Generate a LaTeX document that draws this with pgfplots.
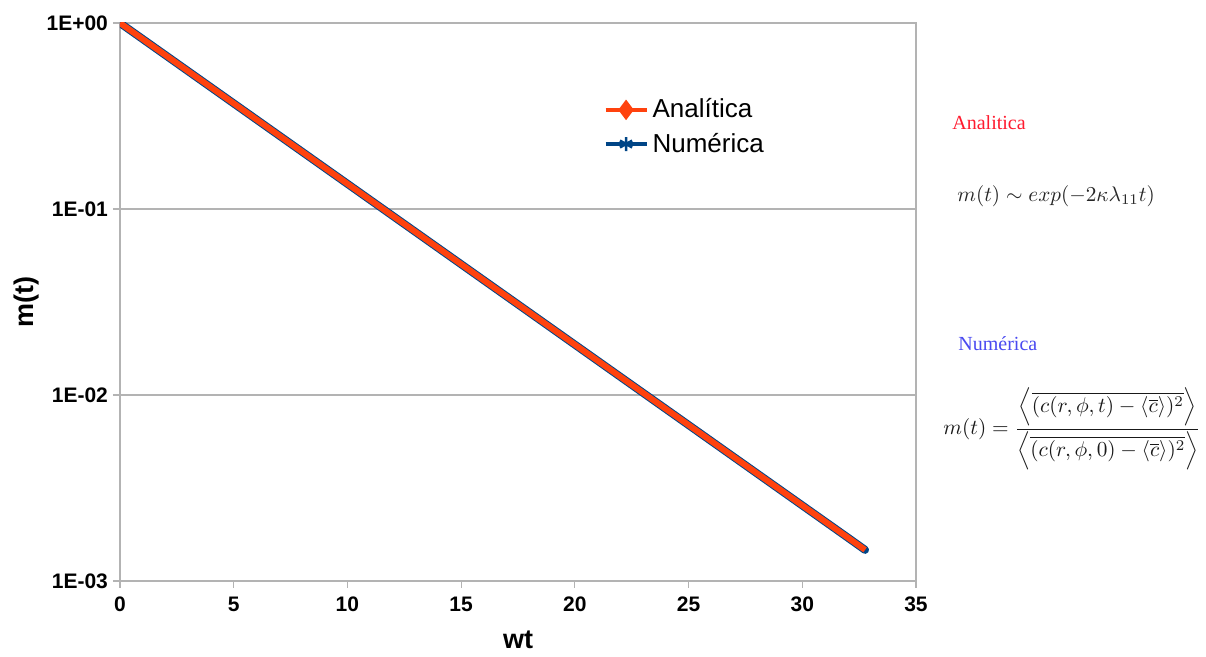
\documentclass[border=0pt]{standalone}
\usepackage[no-math]{fontspec}
\setmainfont{Liberation Sans}
\newfontfamily\serifx{Liberation Serif}
\usepackage{amsmath}
\usepackage{graphicx}
\usepackage{pgfplots}
\pgfplotsset{compat=1.18}
\definecolor{orangeL}{HTML}{FF420E}
\definecolor{blueN}{HTML}{004586}
\definecolor{gridc}{HTML}{B3B3B3}
\definecolor{redA}{HTML}{FF1A2E}
\definecolor{blueB}{HTML}{4A4AF0}
\pgfplotstableread{
t m
0 1
2 0.6716
4 0.4510
6 0.3029
8 0.2034
10 0.1366
12 0.09173
14 0.06161
16 0.04137
18 0.02779
20 0.01866
22 0.01253
24 0.008417
26 0.005652
28 0.003796
30 0.002549
32 0.001712
32.76 0.00147
}\analitica
\pgfplotstableread{
t m
0 1
2 0.6716
4 0.4510
6 0.3029
8 0.2034
10 0.1366
12 0.09173
14 0.06161
16 0.04137
18 0.02779
20 0.01866
22 0.01253
24 0.008417
26 0.005652
28 0.003796
30 0.002549
32 0.001712
32.76 0.00147
}\numerica
\begin{document}
\begin{tikzpicture}
\path[use as bounding box] (0,0) rectangle (603pt,328.5pt);
\begin{axis}[
  at={(60pt,38pt)}, anchor=south west,
  scale only axis, width=398pt, height=279pt,
  xmin=0, xmax=35, ymin=0.001, ymax=1, ymode=log,
  xtick={0,5,...,35},
  ytick={0.001,0.01,0.1,1},
  yticklabels={1E-03,1E-02,1E-01,1E+00},
  yminorticks=false,
  /pgf/number format/assume math mode=true,
  axis line style={gridc, line width=0.6pt},
  ymajorgrids, grid style={gridc, line width=0.6pt},
  tick style={gridc, line width=0.6pt},
  tick align=outside, major tick length=3.5pt,
  xtick pos=bottom, ytick pos=left,
  ticklabel style={font=\fontsize{10.5}{12}\selectfont\bfseries, text=black},
  yticklabel style={xshift=1pt},
  xticklabel style={yshift=-1pt},
  xlabel={wt}, ylabel={m(t)},
  label style={font=\fontsize{13.5}{15}\selectfont\bfseries},
  xlabel style={at={(axis description cs:0.5,0)}, anchor=center, yshift=-29.5pt},
  ylabel style={at={(axis description cs:0,0.5)}, anchor=center, yshift=46.5pt},
  legend style={draw=none, fill=none, at={(0.607,0.872)}, anchor=north west,
    font=\fontsize{13}{15}\selectfont, row sep=2pt, inner sep=0pt},
  legend cell align=left,
  legend image code/.code={\draw[#1] plot coordinates {(0cm,0cm)(0.36cm,0cm)(0.72cm,0cm)};},
]
\addlegendimage{color=orangeL, line width=2pt, mark=diamond*, mark size=3.5pt, mark repeat=2, mark phase=2, mark options={solid, fill=orangeL}}
\addlegendentry{Analítica}
\addlegendimage{color=blueN, line width=2pt, mark=asterisk, mark size=3.5pt, mark repeat=2, mark phase=2, mark options={solid, line width=1.2pt}}
\addlegendentry{Numérica}
\addplot[forget plot, blueN, line width=4pt, line cap=round] table[x=t,y=m] {\numerica};
\addplot[forget plot, orangeL, line width=3pt] table[x=t,y=m] {\analitica};
\end{axis}
\node[anchor=west, text=redA, font=\serifx\fontsize{10}{12}\selectfont, inner sep=0pt] at (476pt,267pt) {Analitica};
\node[anchor=west, text=black!85, inner sep=0pt] at (478.5pt,230.5pt) {\scalebox{1.06}{$m(t)\sim exp(-2\kappa\lambda_{11}t)$}};
\node[anchor=west, text=blueB, font=\serifx\fontsize{10}{12}\selectfont, inner sep=0pt] at (479pt,156.5pt) {Numérica};
\node[anchor=west, text=black!90, inner sep=0pt] at (471.5pt,114pt) {\scalebox{1.065}{$\displaystyle m(t)=\frac{\left\langle\overline{(c(r,\phi,t)-\langle\overline{c}\rangle)^2}\right\rangle}{\left\langle\overline{(c(r,\phi,0)-\langle\overline{c}\rangle)^2}\right\rangle}$}};
\end{tikzpicture}
\end{document}
